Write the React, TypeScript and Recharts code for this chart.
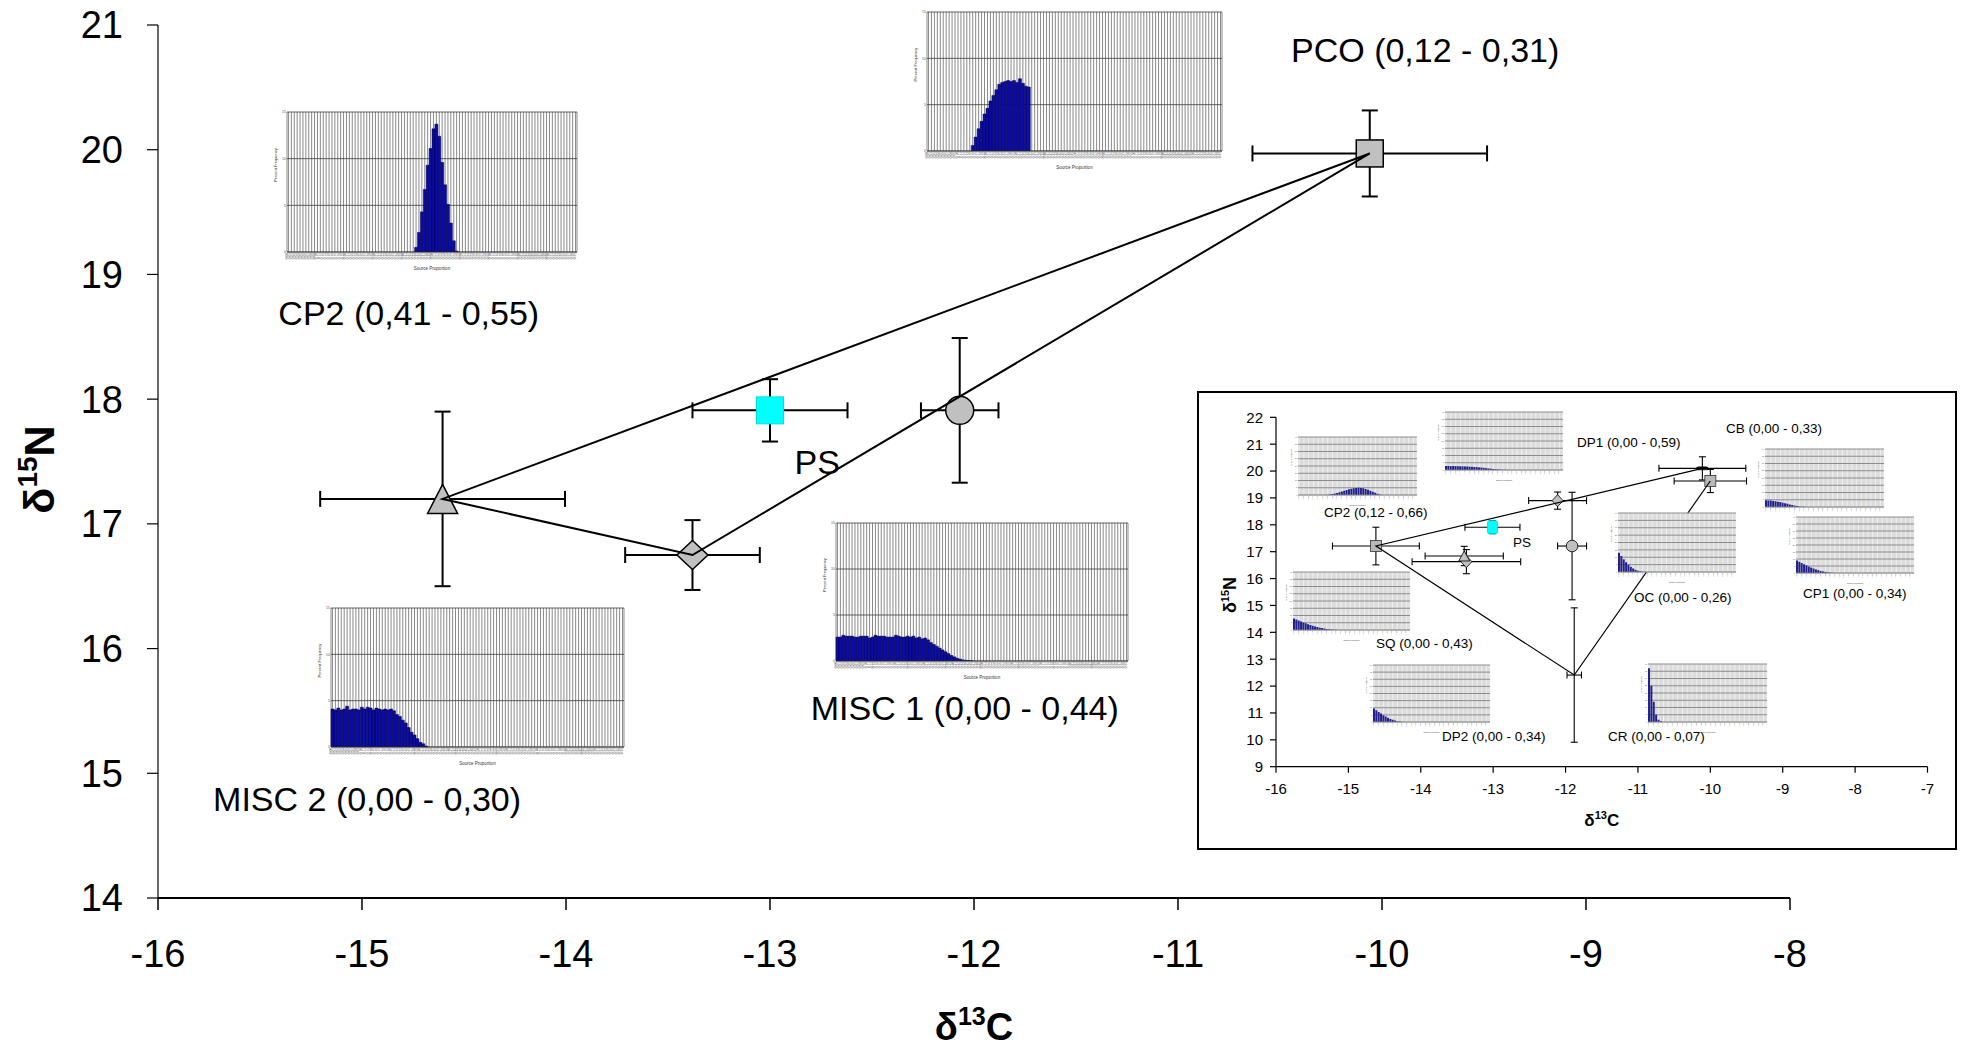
import React from 'react';
import { BarChart, Bar, CartesianGrid, ErrorBar, Scatter, ScatterChart, XAxis, YAxis } from 'recharts';

const FONT = '"Liberation Sans", Arial, Helvetica, sans-serif';

// ---- main figure: source means +- SD ----
const mainXTicks = [-16, -15, -14, -13, -12, -11, -10, -9, -8];
const mainYTicks = [14, 15, 16, 17, 18, 19, 20, 21];

const pcoMain = [{ x: -10.06, y: 19.97, ex: 0.575, ey: 0.345 }];
const misc1Main = [{ x: -12.07, y: 17.91, ex: 0.19, ey: 0.58 }];
const cp2Main = [{ x: -14.605, y: 17.2, ex: 0.6, ey: 0.7 }];
const misc2Main = [{ x: -13.38, y: 16.75, ex: 0.33, ey: 0.28 }];
const psMain = [{ x: -13.0, y: 17.91, ex: 0.38, ey: 0.25 }];

// mixing polygon PCO -> CP2 -> MISC2 -> PCO
const mainMixLine = [pcoMain[0], cp2Main[0], misc2Main[0], pcoMain[0]];

const mainLabels = [
  { x: -10.446, y: 20.8, text: 'PCO (0,12 - 0,31)' },
  { x: -15.41, y: 18.69, text: 'CP2 (0,41 - 0,55)' },
  { x: -12.88, y: 17.5, text: 'PS' },
  { x: -12.8, y: 15.52, text: 'MISC 1 (0,00 - 0,44)' },
  { x: -15.73, y: 14.79, text: 'MISC 2 (0,00 - 0,30)' },
];

// ---- inset figure ----
const insetXTicks = [-16, -15, -14, -13, -12, -11, -10, -9, -8, -7];
const insetYTicks = [9, 10, 11, 12, 13, 14, 15, 16, 17, 18, 19, 20, 21, 22];

const insetSquare = [{ x: -14.62, y: 17.21, ex: 0.6, ey: 0.7 }];
const insetDiamondHigh = [{ x: -12.11, y: 18.9, ex: 0.4, ey: 0.32 }];
const insetPs = [{ x: -13.01, y: 17.91, ex: 0.38, ey: 0.24 }];
const insetTriangle = [{ x: -13.4, y: 16.84, ex: 0.54, ey: 0.36 }];
const insetDiamondLow = [{ x: -13.37, y: 16.63, ex: 0.75, ey: 0.45 }];
const insetCircle = [{ x: -11.91, y: 17.21, ex: 0.2, ey: 2.0 }];
const insetCr = [{ x: -11.88, y: 12.41, ex: 0.1, ey: 2.5 }];
const insetCb = [{ x: -10.11, y: 20.1, ex: 0.6, ey: 0.43 }];
const insetCp1 = [{ x: -10.0, y: 19.63, ex: 0.5, ey: 0.43 }];

const insetMixLine = [insetCb[0], insetSquare[0], insetCr[0], insetCp1[0]];

const insetLabels = [
  { x: -15.337, y: 18.44, text: 'CP2 (0,12 - 0,66)' },
  { x: -11.843, y: 21.08, text: 'DP1 (0,00 - 0,59)' },
  { x: -9.785, y: 21.6, text: 'CB (0,00 - 0,33)' },
  { x: -12.727, y: 17.36, text: 'PS' },
  { x: -14.619, y: 13.57, text: 'SQ (0,00 - 0,43)' },
  { x: -11.055, y: 15.28, text: 'OC (0,00 - 0,26)' },
  { x: -8.721, y: 15.46, text: 'CP1 (0,00 - 0,34)' },
  { x: -13.707, y: 10.11, text: 'DP2 (0,00 - 0,34)' },
  { x: -11.414, y: 10.11, text: 'CR (0,00 - 0,07)' },
];

// ---- posterior histograms (percent frequency per source-proportion bin) ----
type Hist = { start: number; values: number[] };

const cp2Hist: Hist = { start: 44, values: [0.5, 2.1, 4.3, 6.7, 9.3, 11.1, 13.2, 13.7, 12.4, 9.6, 7.2, 5.1, 3.1, 1.2, 0.1] };
const pcoHist: Hist = {
  start: 15,
  values: [0.6, 1.5, 2.4, 3.2, 4.0, 4.6, 5.4, 6.0, 6.6, 7.2, 7.4, 7.5, 7.6, 7.5, 7.6, 7.4, 7.8, 7.3, 7.0, 6.9],
};
const misc1Hist: Hist = {
  start: 0,
  values: [
    2.6, 2.6, 2.8, 2.7, 2.7, 2.7, 2.6, 2.6, 2.7, 2.7, 2.7, 2.5, 2.6, 2.8, 2.7, 2.7, 2.7, 2.6, 2.6, 2.6, 2.8, 2.7, 2.6, 2.6,
    2.7, 2.6, 2.7, 2.5, 2.6, 2.4, 2.5, 2.3, 2.0, 1.8, 1.6, 1.4, 1.2, 1.0, 0.8, 0.6, 0.45, 0.3, 0.2, 0.12, 0.07, 0.04, 0.02,
  ],
};
const misc2Hist: Hist = {
  start: 0,
  values: [
    4.1, 4.0, 4.2, 4.0, 4.1, 4.4, 4.0, 4.1, 4.1, 4.0, 4.3, 4.1, 4.3, 4.2, 4.0, 4.2, 4.1, 4.0, 4.1, 4.0, 4.1, 3.9, 3.5, 3.3,
    2.9, 2.6, 2.1, 1.6, 1.3, 0.9, 0.5, 0.35, 0.1,
  ],
};

const cp2InsetHist: Hist = {
  start: 12,
  values: [0.2, 0.4, 0.7, 1.0, 1.4, 1.9, 2.4, 2.9, 3.4, 3.9, 4.3, 4.7, 4.9, 5.0, 4.9, 4.6, 4.2, 3.7, 3.0, 2.3, 1.6, 0.9, 0.4],
};
const dp1InsetHist: Hist = {
  start: 0,
  values: [2.8, 2.8, 2.7, 2.7, 2.7, 2.6, 2.6, 2.5, 2.5, 2.4, 2.3, 2.2, 2.1, 2.0, 1.8, 1.7, 1.5, 1.3, 1.1, 0.9, 0.7, 0.6, 0.4, 0.3, 0.2, 0.1, 0.05],
};
const sqInsetHist: Hist = {
  start: 0,
  values: [8.0, 7.3, 6.6, 5.9, 5.2, 4.6, 4.0, 3.4, 2.9, 2.4, 2.0, 1.6, 1.3, 1.0, 0.7, 0.5, 0.3, 0.2, 0.1, 0.05],
};
const dp2InsetHist: Hist = { start: 0, values: [9.4, 8.2, 7.0, 5.9, 4.8, 3.8, 2.9, 2.1, 1.5, 1.0, 0.6, 0.3, 0.15, 0.05] };
const cbInsetHist: Hist = {
  start: 0,
  values: [4.6, 4.5, 4.4, 4.2, 4.0, 3.7, 3.4, 3.0, 2.6, 2.2, 1.8, 1.4, 1.0, 0.7, 0.4, 0.2, 0.1],
};
const ocInsetHist: Hist = { start: 0, values: [13.1, 10.8, 8.6, 6.6, 4.9, 3.5, 2.4, 1.5, 0.9, 0.5, 0.2, 0.1] };
const cp1InsetHist: Hist = {
  start: 0,
  values: [8.9, 8.0, 7.1, 6.2, 5.4, 4.6, 3.9, 3.2, 2.6, 2.0, 1.5, 1.1, 0.8, 0.5, 0.3, 0.15, 0.05],
};
const crInsetHist: Hist = { start: 0, values: [37, 25, 14, 5, 1.5, 0.5] };

const MAIN_BINS = 100;
const INSET_BINS = 50;
const mainHistTicks = [0, 5, 10, 15];
const insetHistTicks = [0, 5, 10, 15, 20, 25, 30, 35, 40];

const toBins = (h: Hist, bins: number) =>
  Array.from({ length: bins }, (_, i) => ({
    bin: i,
    v: i >= h.start && i < h.start + h.values.length ? h.values[i - h.start] : 0,
  }));

// ---- marker shapes ----
const squareShape = (size: number, fill: string, stroke: string, sw: number, h?: number) => (p: any) => (
  <rect
    x={p.cx - size / 2}
    y={p.cy - (h ?? size) / 2}
    width={size}
    height={h ?? size}
    rx={h ? 2 : 0}
    fill={fill}
    stroke={stroke}
    strokeWidth={sw}
  />
);
const circleShape = (r: number, sw: number) => (p: any) => (
  <circle cx={p.cx} cy={p.cy} r={r} fill="#c0c0c0" stroke="#000" strokeWidth={sw} />
);
const triangleShape = (w: number, h: number, sw: number) => (p: any) => (
  <polygon
    points={`${p.cx},${p.cy - h / 2} ${p.cx + w / 2},${p.cy + h / 2} ${p.cx - w / 2},${p.cy + h / 2}`}
    fill="#c0c0c0"
    stroke="#000"
    strokeWidth={sw}
  />
);
const diamondShape = (w: number, h: number, sw: number) => (p: any) => (
  <polygon
    points={`${p.cx},${p.cy - h / 2} ${p.cx + w / 2},${p.cy} ${p.cx},${p.cy + h / 2} ${p.cx - w / 2},${p.cy}`}
    fill="#c0c0c0"
    stroke="#000"
    strokeWidth={sw}
  />
);
const noShape = () => <g />;
const labelShape = (fs: number) => (p: any) => (
  <text x={p.cx} y={p.cy} dominantBaseline="central" fontSize={fs} fontFamily={FONT} fill="#000">
    {p.payload?.text ?? p.text}
  </text>
);

// ---- axis titles ----
const MainXTitle = (p: any) => {
  const vb = p.viewBox ?? { x: 158, y: 898, width: 1632, height: 152 };
  return (
    <text x={vb.x + vb.width / 2} y={vb.y + 142} textAnchor="middle" fontFamily={FONT} fontWeight="bold" fontSize={38}>
      δ<tspan dy={-15} fontSize={25}>13</tspan>
      <tspan dy={15}>C</tspan>
    </text>
  );
};
const MainYTitle = (p: any) => {
  const vb = p.viewBox ?? { x: 8, y: 25, width: 150, height: 873 };
  const cx = vb.x + 46;
  const cy = vb.y + vb.height / 2 + 8;
  return (
    <text x={cx} y={cy} textAnchor="middle" transform={`rotate(-90 ${cx} ${cy})`} fontFamily={FONT} fontWeight="bold" fontSize={43}>
      δ<tspan dy={-17} fontSize={28}>15</tspan>
      <tspan dy={17}>N</tspan>
    </text>
  );
};
const InsetXTitle = (p: any) => {
  const vb = p.viewBox ?? { x: 77, y: 374, width: 651, height: 81 };
  return (
    <text x={vb.x + vb.width / 2} y={vb.y + 59} textAnchor="middle" fontFamily={FONT} fontWeight="bold" fontSize={17}>
      δ<tspan dy={-7} fontSize={11}>13</tspan>
      <tspan dy={7}>C</tspan>
    </text>
  );
};
const InsetYTitle = (p: any) => {
  const vb = p.viewBox ?? { x: 17, y: 24, width: 60, height: 349 };
  const cx = vb.x + 20;
  const cy = vb.y + vb.height / 2 + 3;
  return (
    <text x={cx} y={cy} textAnchor="middle" transform={`rotate(-90 ${cx} ${cy})`} fontFamily={FONT} fontWeight="bold" fontSize={18}>
      δ<tspan dy={-7} fontSize={11}>15</tspan>
      <tspan dy={7}>N</tspan>
    </text>
  );
};

// ---- histogram ----
type Box = { left: number; top: number; width: number; height: number };

const HistTick = ({ x, y, payload, fs, bins }: any) => (
  <text x={x} y={y} fontSize={fs} fill="#666" textAnchor="end" transform={`rotate(-90 ${x} ${y})`}>
    {(payload.value / bins).toFixed(2)}
  </text>
);

const Histogram = ({ hist, bins, box, inset }: { hist: Hist; bins: number; box: Box; inset?: boolean }) => {
  const data = toBins(hist, bins);
  const padL = inset ? 8 : 14;
  const padB = inset ? 12 : 20;
  const padT = 4;
  const padR = 3;
  const w = box.width + padL + padR;
  const h = box.height + padB + padT;
  return (
    <div style={{ position: 'absolute', left: box.left - padL, top: box.top - padT, width: w, height: h }}>
      <BarChart
        width={w}
        height={h}
        data={data}
        margin={{ top: padT, right: padR, bottom: 0, left: 0 }}
        barCategoryGap={0}
        barGap={0}
      >
        <CartesianGrid
          horizontal={false}
          fill={inset ? '#dcdcdc' : 'none'}
          stroke={inset ? '#f6f6f6' : '#8a8a8a'}
          strokeWidth={inset ? 0.8 : 1}
        />
        <CartesianGrid vertical={false} stroke={inset ? '#8c8c8c' : '#3c3c3c'} strokeWidth={inset ? 1 : 0.8} />
        <XAxis
          dataKey="bin"
          interval={inset ? 1 : 0}
          height={padB}
          tickLine={false}
          tickSize={0}
          tickMargin={1}
          axisLine={{ stroke: inset ? '#999' : '#333', strokeWidth: 0.8 }}
          tick={<HistTick fs={inset ? 1.8 : 3.2} bins={bins} />}
          label={{ value: 'Source Proportion', position: 'insideBottom', offset: inset ? 1 : 2, fontSize: inset ? 2 : 4.5, fill: '#333' }}
        />
        <YAxis
          type="number"
          domain={[0, inset ? 40 : 15]}
          ticks={inset ? insetHistTicks : mainHistTicks}
          interval={0}
          width={padL}
          tickLine={false}
          tickSize={0}
          tickMargin={1}
          axisLine={false}
          allowDataOverflow
          tick={{ fontSize: inset ? 2 : 3.5, fill: '#555' }}
          label={{ value: 'Percent Frequency', angle: -90, position: 'insideLeft', offset: inset ? 1 : 3, fontSize: inset ? 2 : 4, fill: '#333' }}
        />
        <Bar
          dataKey="v"
          fill={inset ? '#22228f' : '#0b0ba6'}
          stroke={inset ? 'none' : '#00003c'}
          strokeWidth={0.5}
          isAnimationActive={false}
        />
      </BarChart>
    </div>
  );
};

const mainErr = (
  [<ErrorBar key="ex" dataKey="ex" direction="x" width={8} stroke="#000" strokeWidth={2} />,
  <ErrorBar key="ey" dataKey="ey" direction="y" width={8} stroke="#000" strokeWidth={2} />]
);
const insetErr = (
  [<ErrorBar key="ex" dataKey="ex" direction="x" width={3.5} stroke="#000" strokeWidth={1.1} />,
  <ErrorBar key="ey" dataKey="ey" direction="y" width={3.5} stroke="#000" strokeWidth={1.1} />]
);

export default function App() {
  return (
    <div style={{ position: 'absolute', left: 0, top: 0, width: 1966, height: 1050, background: '#fff', fontFamily: FONT }}>
      <div style={{ position: 'absolute', left: 0, top: 0 }}>
        <ScatterChart width={1966} height={1050} margin={{ top: 25, right: 176, bottom: 0, left: 8 }}>
          <XAxis
            type="number"
            dataKey="x"
            domain={[-16, -8]}
            ticks={mainXTicks}
            allowDataOverflow
            height={152}
            tickSize={12}
            tickMargin={30}
            axisLine={{ stroke: '#000', strokeWidth: 2 }}
            tickLine={{ stroke: '#000', strokeWidth: 1.5 }}
            tick={{ fontSize: 38, fill: '#000', fontFamily: FONT }}
            label={{ content: (p: any) => <MainXTitle {...p} /> }}
          />
          <YAxis
            type="number"
            dataKey="y"
            domain={[14, 21]}
            ticks={mainYTicks}
            allowDataOverflow
            width={150}
            tickSize={11}
            tickMargin={24}
            axisLine={{ stroke: '#000', strokeWidth: 1.2 }}
            tickLine={{ stroke: '#000', strokeWidth: 1.2 }}
            tick={{ fontSize: 38, fill: '#000', fontFamily: FONT }}
            label={{ content: (p: any) => <MainYTitle {...p} /> }}
          />
          <Scatter data={pcoMain} shape={squareShape(27, '#c0c0c0', '#000', 1.5)} isAnimationActive={false}>{mainErr}</Scatter>
          <Scatter data={misc1Main} shape={circleShape(14, 1.5)} isAnimationActive={false}>{mainErr}</Scatter>
          <Scatter data={cp2Main} shape={triangleShape(30, 29, 1.5)} isAnimationActive={false}>{mainErr}</Scatter>
          <Scatter data={misc2Main} shape={diamondShape(31, 29, 1.5)} isAnimationActive={false}>{mainErr}</Scatter>
          <Scatter data={psMain} shape={squareShape(27, '#00ffff', '#00e0e0', 1)} isAnimationActive={false}>{mainErr}</Scatter>
          <Scatter data={mainMixLine} line={{ stroke: '#000', strokeWidth: 2 }} shape={noShape} isAnimationActive={false} />
          <Scatter data={mainLabels} shape={labelShape(34)} isAnimationActive={false} />
        </ScatterChart>
      </div>

      <Histogram hist={cp2Hist} bins={MAIN_BINS} box={{ left: 287, top: 112, width: 290, height: 140 }} />
      <Histogram hist={pcoHist} bins={MAIN_BINS} box={{ left: 927, top: 12, width: 295, height: 139 }} />
      <Histogram hist={misc1Hist} bins={MAIN_BINS} box={{ left: 836, top: 523, width: 292, height: 138 }} />
      <Histogram hist={misc2Hist} bins={MAIN_BINS} box={{ left: 331, top: 608, width: 293, height: 139 }} />

      <div
        style={{
          position: 'absolute',
          left: 1197,
          top: 391,
          width: 760,
          height: 459,
          boxSizing: 'border-box',
          border: '2px solid #000',
          background: '#fff',
        }}
      >
        <ScatterChart width={756} height={455} margin={{ top: 24.3, right: 27.5, bottom: 0, left: 17 }}>
          <XAxis
            type="number"
            dataKey="x"
            domain={[-16, -7]}
            ticks={insetXTicks}
            allowDataOverflow
            height={81.3}
            tickSize={6}
            tickMargin={11}
            axisLine={{ stroke: '#000', strokeWidth: 1.2 }}
            tickLine={{ stroke: '#000', strokeWidth: 1.2 }}
            tick={{ fontSize: 15, fill: '#000', fontFamily: FONT }}
            label={{ content: (p: any) => <InsetXTitle {...p} /> }}
          />
          <YAxis
            type="number"
            dataKey="y"
            domain={[9, 22]}
            ticks={insetYTicks}
            allowDataOverflow
            width={60}
            tickSize={6}
            tickMargin={7}
            axisLine={{ stroke: '#000', strokeWidth: 1.2 }}
            tickLine={{ stroke: '#000', strokeWidth: 1.2 }}
            tick={{ fontSize: 15, fill: '#000', fontFamily: FONT }}
            label={{ content: (p: any) => <InsetYTitle {...p} /> }}
          />
          <Scatter data={insetCr} shape={noShape} isAnimationActive={false}>{insetErr}</Scatter>
          <Scatter data={insetCircle} shape={circleShape(5.8, 0.8)} isAnimationActive={false}>{insetErr}</Scatter>
          <Scatter data={insetDiamondLow} shape={diamondShape(11, 12, 0.8)} isAnimationActive={false}>{insetErr}</Scatter>
          <Scatter data={insetTriangle} shape={triangleShape(11, 10, 0.8)} isAnimationActive={false}>{insetErr}</Scatter>
          <Scatter data={insetDiamondHigh} shape={diamondShape(11, 12, 0.8)} isAnimationActive={false}>{insetErr}</Scatter>
          <Scatter data={insetPs} shape={squareShape(10, '#00ffff', '#00d8d8', 0.8, 13)} isAnimationActive={false}>{insetErr}</Scatter>
          <Scatter data={insetSquare} shape={squareShape(11, '#b8b8b8', '#333', 0.8)} isAnimationActive={false}>{insetErr}</Scatter>
          <Scatter data={insetCb} shape={squareShape(12, '#000', '#000', 0.5, 3)} isAnimationActive={false}>{insetErr}</Scatter>
          <Scatter data={insetCp1} shape={squareShape(11, '#b8b8b8', '#333', 0.8)} isAnimationActive={false}>{insetErr}</Scatter>
          <Scatter data={insetMixLine} line={{ stroke: '#000', strokeWidth: 1.2 }} shape={noShape} isAnimationActive={false} />
          <Scatter data={insetLabels} shape={labelShape(13.5)} isAnimationActive={false} />
        </ScatterChart>
      </div>

      <Histogram inset hist={cp2InsetHist} bins={INSET_BINS} box={{ left: 1298, top: 437, width: 119, height: 58 }} />
      <Histogram inset hist={dp1InsetHist} bins={INSET_BINS} box={{ left: 1445, top: 412, width: 118, height: 58 }} />
      <Histogram inset hist={sqInsetHist} bins={INSET_BINS} box={{ left: 1293, top: 572, width: 117, height: 58 }} />
      <Histogram inset hist={dp2InsetHist} bins={INSET_BINS} box={{ left: 1373, top: 665, width: 117, height: 57 }} />
      <Histogram inset hist={cbInsetHist} bins={INSET_BINS} box={{ left: 1765, top: 449, width: 119, height: 58 }} />
      <Histogram inset hist={ocInsetHist} bins={INSET_BINS} box={{ left: 1618, top: 513, width: 118, height: 59 }} />
      <Histogram inset hist={cp1InsetHist} bins={INSET_BINS} box={{ left: 1796, top: 517, width: 118, height: 56 }} />
      <Histogram inset hist={crInsetHist} bins={INSET_BINS} box={{ left: 1648, top: 664, width: 119, height: 58 }} />
    </div>
  );
}
